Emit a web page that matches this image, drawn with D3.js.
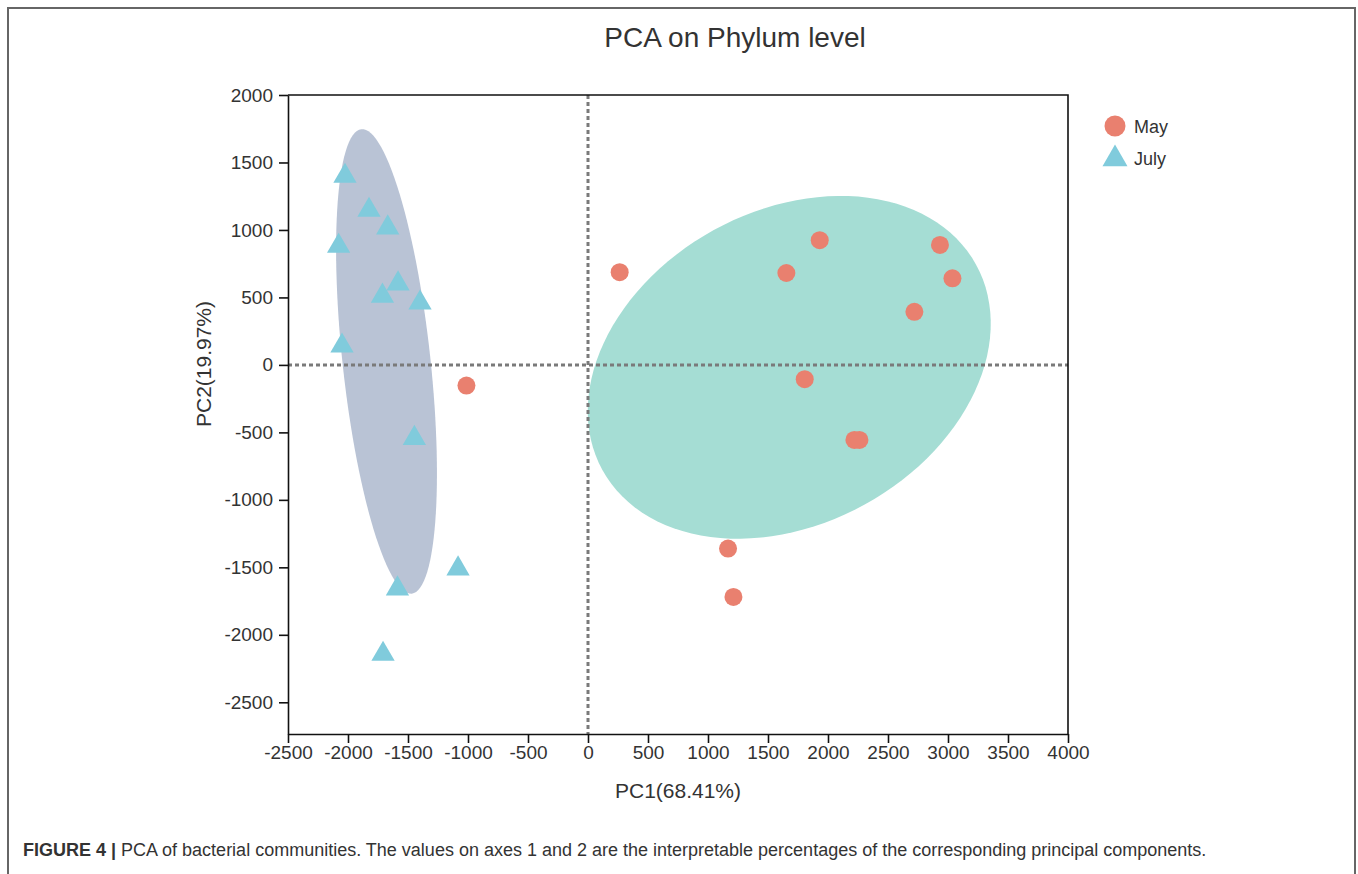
<!DOCTYPE html>
<html>
<head>
<meta charset="utf-8">
<script src="https://cdn.jsdelivr.net/npm/d3@7"></script>
<style>
  body { margin: 0; background: #fff; }
  text { font-family: "Liberation Sans", Arial, Helvetica, sans-serif; fill: #333; }
</style>
</head>
<body>
<svg id="pca" width="1358" height="874"></svg>
<script>
// PCA on phylum level, May vs July samples

var groups = ["May", "July"];

// May samples [PC1, PC2]
var mayPoints = [[264, 687], [1931, 924], [1653, 681], [2933, 889], [3037, 642], [2720, 393],
  [1806, -106], [2220, -556], [2262, -556], [1167, -1361], [1212, -1719], [-1013, -153]];

// July samples [PC1, PC2]
var julyPoints = [[-2025, 1399], [-1825, 1147], [-1669, 1016], [-2078, 880], [-1583, 601],
  [-1713, 511], [-1400, 460], [-2050, 141], [-1447, -543], [-1083, -1511], [-1588, -1659], [-1708, -2143]];

// confidence ellipses: centre, first and second semi-axis vectors (data units)
var mayEllipse = { center: [1677, -18], u: [1557, 761], v: [629, -1017] };
var julyEllipse = { center: [-1679, 26], u: [-210, 1721], v: [364, 35] };

var xTicks = [-2500, -2000, -1500, -1000, -500, 0, 500, 1000, 1500, 2000, 2500, 3000, 3500, 4000];
var yTicks = [-2500, -2000, -1500, -1000, -500, 0, 500, 1000, 1500, 2000];

var svg = d3.select("#pca");

var x = d3.scaleLinear().domain([-2500, 4000]).range([288, 1068]);
var y = d3.scaleLinear().domain([-2735, 2000]).range([734, 95]);

// outer figure frame
svg.append("path")
  .attr("d", "M8,874 L8,8 L1355,8 L1355,874")
  .attr("fill", "none")
  .attr("stroke", "#666")
  .attr("stroke-width", 2);

// ellipses
function ellipsePath(e) {
  var pts = d3.range(0, 361, 3).map(function(a) {
    var t = a * Math.PI / 180;
    return [x(e.center[0] + e.u[0] * Math.cos(t) + e.v[0] * Math.sin(t)),
            y(e.center[1] + e.u[1] * Math.cos(t) + e.v[1] * Math.sin(t))];
  });
  return d3.line().curve(d3.curveLinearClosed)(pts);
}

svg.append("path").attr("d", ellipsePath(julyEllipse)).attr("fill", "#b9c3d5");
svg.append("path").attr("d", ellipsePath(mayEllipse)).attr("fill", "#a5ddd4");

// zero lines
svg.append("line")
  .attr("x1", x(0)).attr("x2", x(0))
  .attr("y1", y.range()[1]).attr("y2", y.range()[0])
  .attr("stroke", "#7a7a7a").attr("stroke-width", 3).attr("stroke-dasharray", "4,3");
svg.append("line")
  .attr("x1", x.range()[0]).attr("x2", x.range()[1])
  .attr("y1", y(0)).attr("y2", y(0))
  .attr("stroke", "#7a7a7a").attr("stroke-width", 3).attr("stroke-dasharray", "4,3");

// box top and right
svg.append("path")
  .attr("d", "M" + x.range()[0] + "," + y.range()[1] + " H" + x.range()[1] + " V" + y.range()[0])
  .attr("fill", "none").attr("stroke", "#111").attr("stroke-width", 1.6);

// axes
var xAxis = svg.append("g")
  .attr("transform", "translate(0," + y.range()[0] + ")")
  .call(d3.axisBottom(x).tickValues(xTicks).tickFormat(d3.format("d")).tickSize(9).tickSizeOuter(0).tickPadding(3));
var yAxis = svg.append("g")
  .attr("transform", "translate(" + x.range()[0] + ",0)")
  .call(d3.axisLeft(y).tickValues(yTicks).tickFormat(d3.format("d")).tickSize(9).tickSizeOuter(0).tickPadding(6));

[xAxis, yAxis].forEach(function(g) {
  g.selectAll("path, line").attr("stroke", "#111").attr("stroke-width", 1.6);
  g.selectAll("text").style("font-size", "19px").attr("fill", "#333");
});
xAxis.selectAll("text").text(function(d) { return String(d).replace("\u2212", "-"); });
yAxis.selectAll("text").text(function(d) { return String(d).replace("\u2212", "-"); });

// points
svg.selectAll("circle.may")
  .data(mayPoints)
  .enter().append("circle")
  .attr("class", "may")
  .attr("r", 9)
  .attr("cx", function(d) { return x(d[0]); })
  .attr("cy", function(d) { return y(d[1]); })
  .attr("fill", "#e9806f");

var tri = d3.symbol().type(d3.symbolTriangle).size(235);
svg.selectAll("path.july")
  .data(julyPoints)
  .enter().append("path")
  .attr("class", "july")
  .attr("d", tri)
  .attr("transform", function(d) { return "translate(" + x(d[0]) + "," + y(d[1]) + ")"; })
  .attr("fill", "#80cbdc");

// titles
svg.append("text")
  .attr("x", 735).attr("y", 47)
  .attr("text-anchor", "middle")
  .style("font-size", "28px")
  .text("PCA on Phylum level");

svg.append("text")
  .attr("x", (x.range()[0] + x.range()[1]) / 2).attr("y", 798)
  .attr("text-anchor", "middle")
  .style("font-size", "21px")
  .text("PC1(68.41%)");

svg.append("text")
  .attr("transform", "translate(211,364) rotate(-90)")
  .attr("text-anchor", "middle")
  .style("font-size", "21px")
  .text("PC2(19.97%)");

// legend
var legend = svg.append("g").attr("transform", "translate(1115,126)");
legend.append("circle").attr("r", 10.5).attr("fill", "#e9806f");
legend.append("path")
  .attr("d", d3.symbol().type(d3.symbolTriangle).size(270))
  .attr("transform", "translate(0,33)")
  .attr("fill", "#80cbdc");
legend.selectAll("text.lg")
  .data(groups)
  .enter().append("text")
  .attr("class", "lg")
  .attr("x", 19)
  .attr("y", function(d, i) { return 7 + i * 32; })
  .style("font-size", "18px")
  .text(function(d) { return d; });

// caption
var cap = svg.append("text")
  .attr("x", 23).attr("y", 856)
  .style("font-size", "18px");
cap.append("tspan").style("font-weight", "bold").text("FIGURE 4 | ");
cap.append("tspan").text("PCA of bacterial communities. The values on axes 1 and 2 are the interpretable percentages of the corresponding principal components.");
</script>
</body>
</html>
